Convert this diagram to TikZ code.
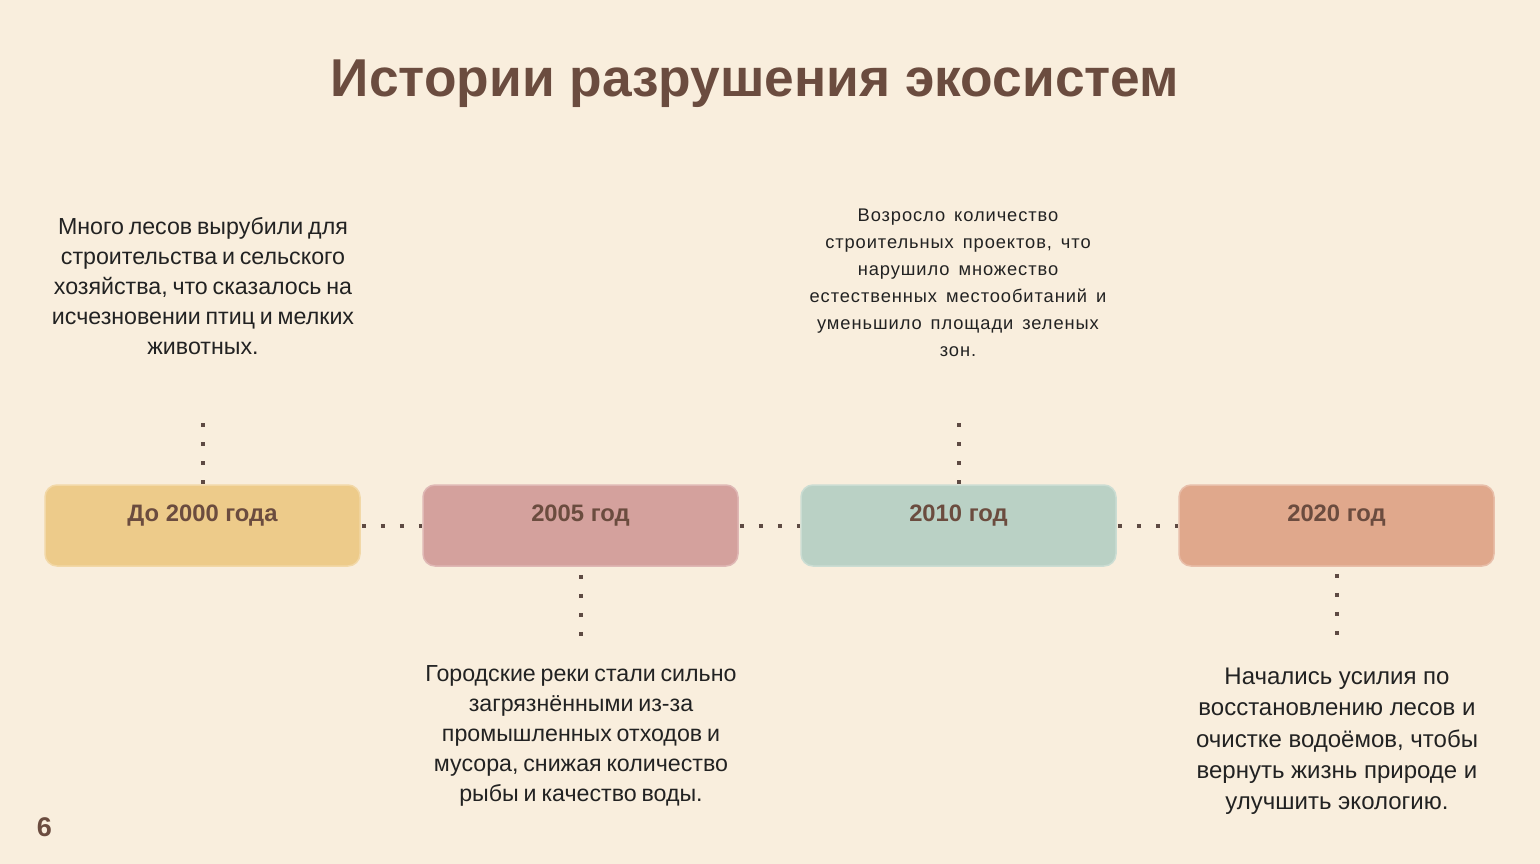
\documentclass[tikz,border=0pt]{standalone}
\usepackage{fontspec}
\setmainfont{Liberation Sans}
\newfontfamily\widefont[LetterSpace=5, WordSpace=1.5]{Liberation Sans}
\newfontfamily\tightfont[WordSpace=0.75]{Liberation Sans}
\definecolor{bg}{HTML}{F9EEDD}
\definecolor{brown}{HTML}{6B4C3F}
\definecolor{dotc}{HTML}{5E4A43}
\definecolor{txt}{HTML}{222222}
\definecolor{cA}{HTML}{EDCB8A}
\definecolor{cB}{HTML}{D4A19D}
\definecolor{cC}{HTML}{BAD1C5}
\definecolor{cD}{HTML}{E0A88C}
\tikzset{
  yearbox/.style={rounded corners=12pt, minimum width=315pt, minimum height=81pt,
    draw=#1!75!white, line width=1.5pt, fill=#1, inner sep=0pt},
  yearlabel/.style={font=\bfseries\fontsize{23.8}{28}\selectfont, text=brown, anchor=center},
  dotline/.style={draw=dotc, line width=4pt, dash pattern=on 4pt off 15pt},
  desc/.style={align=center, text=txt, inner sep=0pt, anchor=center}
}
\begin{document}
\begin{tikzpicture}[x=1pt,y=-1pt]
\fill[bg] (0,0) rectangle (1540,864);
\useasboundingbox (0,0) rectangle (1540,864);

\node[text=brown, font=\bfseries\fontsize{53.3}{60}\selectfont, anchor=base, inner sep=0pt] (title) at (755,97) {Истории разрушения экосистем};

% boxes
\node[yearbox=cA] (b1) at (202.5,525.5) {};
\node[yearbox=cB] (b2) at (580.5,525.5) {};
\node[yearbox=cC] (b3) at (958.5,525.5) {};
\node[yearbox=cD] (b4) at (1336.5,525.5) {};
\node[yearlabel] (l1) at (202.5,516) {До 2000 года};
\node[yearlabel] (l2) at (580.5,516) {2005 год};
\node[yearlabel] (l3) at (958.5,516) {2010 год};
\node[yearlabel] (l4) at (1336.5,516) {2020 год};

% horizontal connectors
\draw[dotline, shorten <=1pt] (b1.east) -- (b2.west);
\draw[dotline, shorten <=1pt] (b2.east) -- (b3.west);
\draw[dotline, shorten <=1pt] (b3.east) -- (b4.west);

% vertical connectors
\coordinate (t1) at (202.5,423);
\coordinate (t3) at (958.5,423);
\coordinate (d2) at (580.5,640);
\coordinate (d4) at (1336.5,640);
\draw[dotline] (t1) -- (b1.north);
\draw[dotline] (t3) -- (b3.north);
\draw[dotline, shorten <=8pt] (b2.south) -- (d2);
\draw[dotline, shorten <=7pt] (b4.south) -- (d4);

% descriptions
\node[desc, font=\tightfont\fontsize{23.2}{30}\selectfont] (tx1) at (203,286) {Много лесов вырубили для\\строительства и сельского\\хозяйства, что сказалось на\\исчезновении птиц и мелких\\животных.};
\node[desc, font=\widefont\fontsize{18.3}{27}\selectfont] (tx3) at (958,283) {Возросло количество\\строительных проектов, что\\нарушило множество\\естественных местообитаний и\\уменьшило площади зеленых\\зон.};
\node[desc, font=\tightfont\fontsize{23.2}{30}\selectfont] (tx2) at (581,736) {Городские реки стали сильно\\загрязнёнными из-за\\промышленных отходов и\\мусора, снижая количество\\рыбы и качество воды.};
\node[desc, font=\fontsize{24}{31.3}\selectfont] (tx4) at (1337,741.5) {Начались усилия по\\восстановлению лесов и\\очистке водоёмов, чтобы\\вернуть жизнь природе и\\улучшить экологию.};

\node[text=brown, font=\bfseries\fontsize{27}{30}\selectfont] (num) at (44.5,827) {6};
\end{tikzpicture}
\end{document}
